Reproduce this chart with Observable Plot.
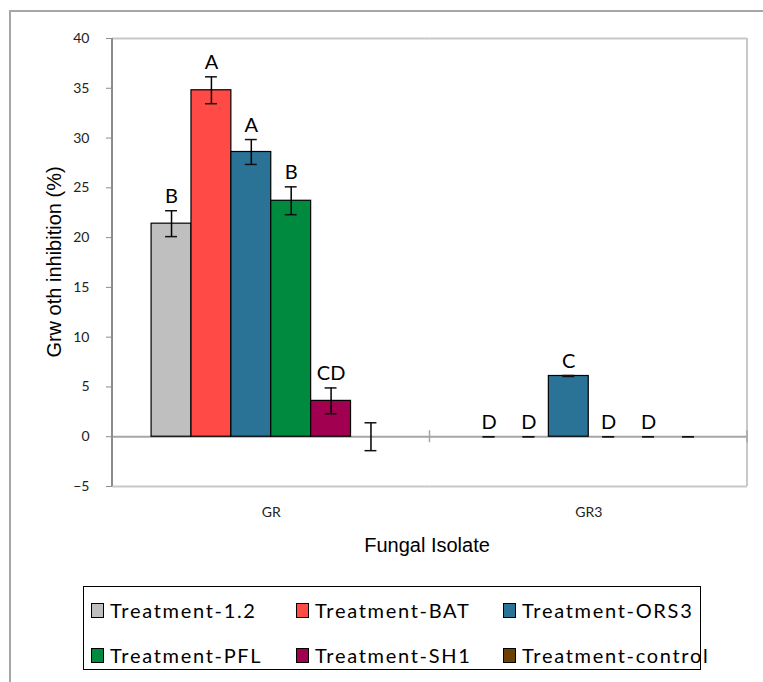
<!DOCTYPE html>
<html><head><meta charset="utf-8">
<script src="https://cdn.jsdelivr.net/npm/d3@7"></script>
<script src="https://cdn.jsdelivr.net/npm/@observablehq/plot@0.6"></script>
<style>
body{margin:0;background:#fff;}
#wrap{position:relative;width:763px;height:682px;overflow:hidden;background:#fff;}
#outer{position:absolute;left:9px;top:10px;width:800px;height:700px;border-left:2px solid #a6a6a6;border-top:2px solid #a6a6a6;}
#chart{position:absolute;left:0;top:0;}
#ytitle{position:absolute;left:54px;top:262px;transform:translate(-50%,-50%) rotate(-90deg);font-family:"Liberation Sans",Arial,sans-serif;font-size:20px;white-space:nowrap;color:#000;}
#xtitle{position:absolute;left:427px;top:545px;transform:translate(-50%,-50%);font-family:"Liberation Sans",Arial,sans-serif;font-size:20px;white-space:nowrap;color:#000;}
#legend{position:absolute;left:83px;top:586px;width:618px;height:84px;border:1px solid #000;box-sizing:border-box;font-family:Lato,"Open Sans",sans-serif;font-size:20px;letter-spacing:1.7px;color:#000;}
.item{position:absolute;display:flex;align-items:center;white-space:nowrap;}
.sw{width:11px;height:13px;border:1px solid #000;margin-right:6px;flex:none;}
</style></head>
<body>
<div id="wrap">
  <div id="outer"></div>
  <div id="chart"></div>
  <div id="ytitle">Grw oth inhibition (%)</div>
  <div id="xtitle">Fungal Isolate</div>
  <div id="legend"></div>
</div>
<script>
const isolates = ["GR", "GR3"];
const treatments = ["Treatment-1.2", "Treatment-BAT", "Treatment-ORS3", "Treatment-PFL", "Treatment-SH1", "Treatment-control"];
const colors = ["#bfbfbf", "#ff4a46", "#2a7396", "#008a40", "#a10050", "#6b4000"];
const grValues = [21.4, 34.8, 28.6, 23.7, 3.6, 0];
const grErrors = [1.3, 1.35, 1.25, 1.4, 1.3, 1.4];
const grLetters = ["B", "A", "A", "B", "CD", ""];
const gr3Values = [0, 0, 6.1, 0, 0, 0];
const gr3Errors = [0, 0, 0.05, 0, 0, 0];
const gr3Letters = ["D", "D", "C", "D", "D", ""];
const yTicks = [-5, 0, 5, 10, 15, 20, 25, 30, 35, 40];

const rows = [];
treatments.forEach((t, i) => {
  rows.push({isolate: "GR", treatment: t, value: grValues[i], err: grErrors[i], letter: grLetters[i]});
  rows.push({isolate: "GR3", treatment: t, value: gr3Values[i], err: gr3Errors[i], letter: gr3Letters[i]});
});

const plot = Plot.plot({
  width: 763, height: 560,
  marginLeft: 112, marginRight: 16, marginTop: 38, marginBottom: 74,
  style: {fontFamily: "Lato, 'Open Sans', sans-serif", fontSize: "14px", color: "#222", background: "transparent", overflow: "visible"},
  fx: {domain: isolates, padding: 0, round: false, label: null, axis: "bottom", tickSize: 0, tickPadding: 21, fontSize: 13},
  x: {domain: treatments, paddingInner: 0, paddingOuter: 0.98, round: false, axis: null},
  y: {domain: [-5, 40], axis: null},
  color: {domain: treatments, range: colors},
  marks: [
    Plot.ruleY([40, -5], {stroke: "#c8c8c8", strokeWidth: 2}),
    Plot.ruleY([0], {stroke: "#a6a6a6", strokeWidth: 2}),
    Plot.barY(rows, {fx: "isolate", x: "treatment", y: "value", fill: "treatment", stroke: "#000", strokeWidth: 1.2}),
    Plot.ruleX(rows, {fx: "isolate", x: "treatment", y1: d => d.value - d.err, y2: d => d.value + d.err, stroke: "#000", strokeWidth: 1.5}),
    Plot.tickY(rows, {fx: "isolate", x: "treatment", y: d => d.value + d.err, insetLeft: 14, insetRight: 14, stroke: "#111", strokeWidth: 1.5}),
    Plot.tickY(rows, {fx: "isolate", x: "treatment", y: d => d.value - d.err, insetLeft: 14, insetRight: 14, stroke: "#111", strokeWidth: 1.5}),
    Plot.text(rows, {fx: "isolate", x: "treatment", y: d => d.value + d.err, text: "letter", dy: -14, fontSize: 20, fill: "#000"}),
    Plot.axisY({ticks: yTicks, tickSize: 6, tickPadding: 17, stroke: "#8c8c8c", fill: "#222", label: null, fontSize: 14})
  ]
});
document.getElementById("chart").appendChild(plot);

// frame pieces: left axis line, right border, category boundary ticks
const svg = d3.select(plot);
const ys = plot.scale("y"), fxs = plot.scale("fx");
const left = fxs.apply(isolates[0]);
const right = fxs.apply(isolates[isolates.length - 1]) + fxs.bandwidth;
svg.append("line").attr("x1", right).attr("x2", right).attr("y1", ys.apply(40)).attr("y2", ys.apply(-5)).attr("stroke", "#c8c8c8").attr("stroke-width", 2);
svg.append("line").attr("x1", left).attr("x2", left).attr("y1", ys.apply(40)).attr("y2", ys.apply(-5)).attr("stroke", "#8c8c8c").attr("stroke-width", 2);
isolates.forEach(iso => {
  const xb = fxs.apply(iso) + fxs.bandwidth;
  svg.append("line").attr("x1", xb).attr("x2", xb).attr("y1", ys.apply(0) - 6).attr("y2", ys.apply(0) + 6).attr("stroke", "#a6a6a6").attr("stroke-width", 1.5);
});

// legend
const leg = d3.select("#legend");
const colX = [7, 212, 419];
const rowY = [23, 68];
treatments.forEach((t, i) => {
  const it = leg.append("div").attr("class", "item")
    .style("left", colX[i % 3] + "px").style("top", (rowY[Math.floor(i / 3)] - 12) + "px").style("height", "24px");
  it.append("div").attr("class", "sw").style("background", colors[i]);
  it.append("span").text(t);
});
</script>
</body></html>
